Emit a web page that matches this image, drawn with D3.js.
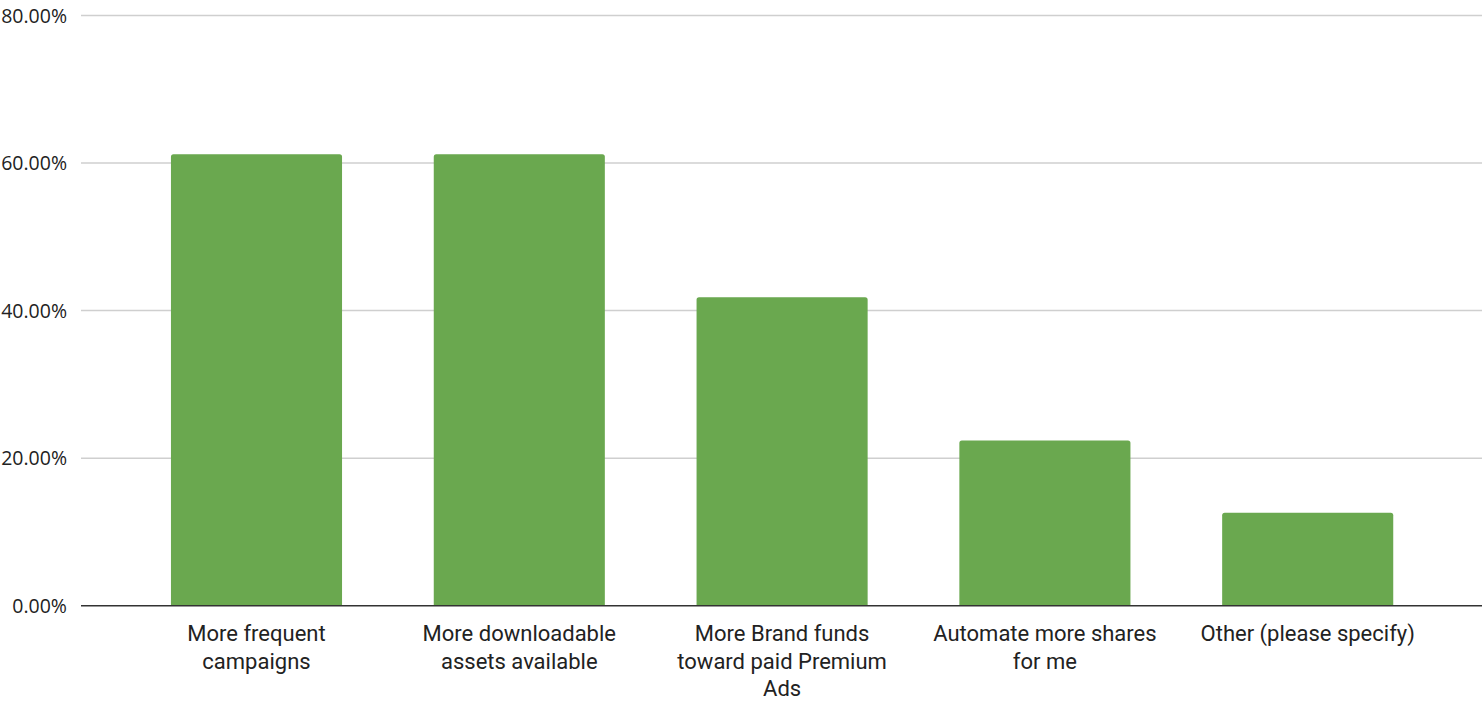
<!DOCTYPE html>
<html>
<head>
<meta charset="utf-8">
<script src="https://cdn.jsdelivr.net/npm/d3@7"></script>
<style>
  html, body { margin: 0; padding: 0; background: #fff; }
  svg { display: block; }
</style>
</head>
<body>
<svg id="chart" width="1482" height="701"></svg>
<script>
// Survey answers (share of respondents)
const categories = [
  "More frequent campaigns",
  "More downloadable assets available",
  "More Brand funds toward paid Premium Ads",
  "Automate more shares for me",
  "Other (please specify)"
];
// Category labels as they wrap under each bar
const categoryLines = [
  ["More frequent", "campaigns"],
  ["More downloadable", "assets available"],
  ["More Brand funds", "toward paid Premium", "Ads"],
  ["Automate more shares", "for me"],
  ["Other (please specify)"]
];
const values = [0.612, 0.612, 0.418, 0.224, 0.126];
const yTicks = [0, 0.2, 0.4, 0.6, 0.8];

const svg = d3.select("#chart");
const gridLeft = 81, gridRight = 1482;
const yTop = 15.5, yBottom = 605.7;

const x = d3.scaleBand()
  .domain(categories)
  .range([125.1, 1439.1])
  .paddingInner(0.349)
  .paddingOuter(0.1745);

const y = d3.scaleLinear().domain([0, 0.8]).range([yBottom, yTop]);

// Horizontal gridlines
svg.append("g")
  .selectAll("line")
  .data(yTicks.filter(d => d > 0))
  .join("line")
  .attr("x1", gridLeft).attr("x2", gridRight)
  .attr("y1", d => y(d)).attr("y2", d => y(d))
  .attr("stroke", "#cfcfcf")
  .attr("stroke-width", 1.5);

// Y-axis tick labels
const yAxis = d3.axisLeft(y)
  .tickValues(yTicks)
  .tickFormat(d3.format(".2%"))
  .tickSize(0)
  .tickPadding(0);
const yg = svg.append("g")
  .attr("transform", `translate(67,0)`)
  .call(yAxis);
yg.select(".domain").remove();
yg.selectAll("text")
  .attr("font-family", "'Open Sans', 'Noto Sans', sans-serif")
  .attr("font-size", 19.5)
  .attr("fill", "#222")
  .attr("dy", "0.35em");

// Bars with slightly rounded top corners
const r = 2.5;
svg.append("g")
  .selectAll("path")
  .data(categories.map((c, i) => ({ c, v: values[i] })))
  .join("path")
  .attr("fill", "#6aa84f")
  .attr("d", d => {
    const x0 = x(d.c), x1 = x0 + x.bandwidth();
    const yt = y(d.v), yb = y(0);
    return `M${x0},${yb}V${yt + r}Q${x0},${yt} ${x0 + r},${yt}H${x1 - r}Q${x1},${yt} ${x1},${yt + r}V${yb}Z`;
  });

// Baseline
svg.append("line")
  .attr("x1", gridLeft).attr("x2", gridRight)
  .attr("y1", y(0)).attr("y2", y(0))
  .attr("stroke", "#333")
  .attr("stroke-width", 1.5);

// Category labels
const xg = svg.append("g")
  .selectAll("text")
  .data(categories)
  .join("text")
  .attr("text-anchor", "middle")
  .attr("font-family", "Roboto, sans-serif")
  .attr("font-size", 22)
  .attr("fill", "#222")
  .attr("transform", d => `translate(${x(d) + x.bandwidth() / 2},641)`);
xg.selectAll("tspan")
  .data((d, i) => categoryLines[i])
  .join("tspan")
  .attr("x", 0)
  .attr("y", (d, i) => i * 27.7)
  .text(d => d);
</script>
</body>
</html>
